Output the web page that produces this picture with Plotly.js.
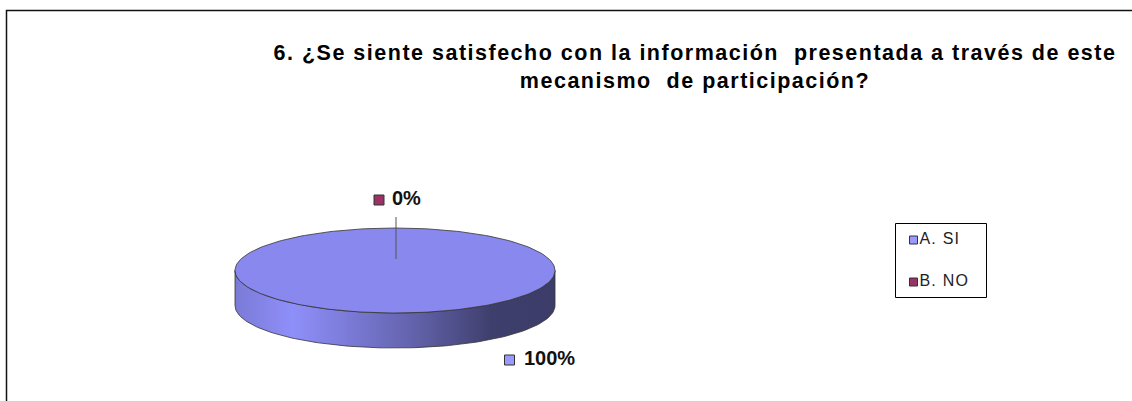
<!DOCTYPE html>
<html><head><meta charset="utf-8">
<script src="https://cdn.plot.ly/plotly-3.0.1.min.js"></script>
<style>
html,body{margin:0;padding:0;background:#fff}
.gtitle{letter-spacing:1.5px}
.legtext .textpoint text{letter-spacing:1.2px}
</style></head>
<body>
<div id="chart" style="width:1132px;height:401px"></div>
<script>
// ---------- data ----------
const categories = ["A. SI", "B. NO"];
const values = [100, 0];
const sliceColors = ["#8888EE", "#993366"];
const keyColors = ["#9999FF", "#993366"];
const titleText = "<b>6. ¿Se siente satisfecho con la información&nbsp; presentada a través de este<br>mecanismo&nbsp; de participación?</b>";

// ---------- layout geometry (pixel-like space) ----------
const W = 1132, H = 401;
const pie = {cx: 395, cy: 270.5, rx: 160, ry: 42.5, depth: 35};
const labelMarkerPos = [[509.5, 360], [379, 200]];
const labelTextPos = [[524, 360], [392, 200]];
const legendPos = [[913.5, 240], [913.5, 282]];
const leader = [null, {x: 396, y0: 217, y1: 259}];
const edge = "#333333";
const FONT = 'Liberation Sans, Arial, sans-serif';

function hexToRgb(h){h=h.replace('#','');return [0,2,4].map(i=>parseInt(h.substr(i,2),16));}
function shade(c,f){const r=hexToRgb(c).map(v=>Math.max(0,Math.min(255,Math.round(v*f))));return `rgb(${r[0]},${r[1]},${r[2]})`;}

const total = values.reduce((a,b)=>a+b,0);
const fracs = values.map(v=>v/total);
const traces = [];

// top-face point for angle theta (clockwise from 12 o'clock)
const topPt = (t, dy=0) => [pie.cx + pie.rx*Math.sin(t), pie.cy - pie.ry*Math.cos(t) + dy];

// side walls (front half: theta in [pi/2, 3pi/2])
let acc = 0;
fracs.forEach((f,i)=>{
  const a0 = acc*2*Math.PI, a1 = (acc+f)*2*Math.PI; acc += f;
  const s = Math.max(a0, Math.PI/2), e = Math.min(a1, 3*Math.PI/2);
  if (e <= s) return;
  const xs=[], ys=[], N=120;
  for(let k=0;k<=N;k++){const t=s+(e-s)*k/N;const p=topPt(t);xs.push(p[0]);ys.push(p[1]);}
  for(let k=N;k>=0;k--){const t=s+(e-s)*k/N;const p=topPt(t,pie.depth);xs.push(p[0]);ys.push(p[1]);}
  xs.push(xs[0]); ys.push(ys[0]);
  const c = sliceColors[i];
  traces.push({type:'scatter', mode:'lines', x:xs, y:ys, fill:'toself',
    fillgradient:{type:'horizontal', colorscale:[[0,shade(c,0.9)],[0.18,shade(c,1.05)],[0.4,shade(c,0.86)],[0.56,shade(c,0.72)],[0.8,shade(c,0.46)],[1,shade(c,0.44)]]},
    line:{color:edge, width:0.8}, showlegend:false, hoverinfo:'skip'});
});

// top faces
acc = 0;
fracs.forEach((f,i)=>{
  const a0 = acc*2*Math.PI, a1 = (acc+f)*2*Math.PI; acc += f;
  if (f <= 0) return;
  const xs=[], ys=[], N=240;
  if (f < 1){xs.push(pie.cx); ys.push(pie.cy);}
  for(let k=0;k<=N;k++){const t=a0+(a1-a0)*k/N;const p=topPt(t);xs.push(p[0]);ys.push(p[1]);}
  if (f < 1){xs.push(pie.cx); ys.push(pie.cy);}
  traces.push({type:'scatter', mode:'lines', x:xs, y:ys, fill:'toself', fillcolor:sliceColors[i],
    line:{color:edge, width:0.8}, showlegend:false, hoverinfo:'skip'});
});

// leader lines
leader.forEach(l=>{ if(!l) return;
  traces.push({type:'scatter', mode:'lines', x:[l.x,l.x], y:[l.y0,l.y1], line:{color:'#555', width:1}, showlegend:false, hoverinfo:'skip'});
});

// data label keys
traces.push({type:'scatter', mode:'markers',
  x: labelMarkerPos.map(p=>p[0]), y: labelMarkerPos.map(p=>p[1]),
  marker:{symbol:'square', size:10, color:keyColors, line:{color:'#333', width:1}},
  showlegend:false, hoverinfo:'skip', cliponaxis:false});
// data label texts
traces.push({type:'scatter', mode:'text',
  x: labelTextPos.map(p=>p[0]), y: labelTextPos.map(p=>p[1]),
  text: fracs.map(f=>Math.round(f*100)+'%'), textposition:'middle right',
  textfont:{family:FONT, size:20, color:'#111', weight:'bold'},
  showlegend:false, hoverinfo:'skip', cliponaxis:false});

// legend entries
traces.push({type:'scatter', mode:'markers+text',
  x: legendPos.map(p=>p[0]), y: legendPos.map(p=>p[1]),
  text: categories, textposition:'middle right',
  textfont:{family:FONT, size:16, color:'#222'},
  marker:{symbol:'square', size:8, color:keyColors, line:{color:'#333', width:1}},
  showlegend:false, hoverinfo:'skip', cliponaxis:false});

const layout = {
  width: W, height: H, margin:{l:0,r:0,t:0,b:0},
  paper_bgcolor:'#fff', plot_bgcolor:'#fff', showlegend:false, hovermode:false,
  xaxis:{range:[0,W], visible:false, fixedrange:true},
  yaxis:{range:[H,0], visible:false, fixedrange:true},
  title:{text:titleText, x:695/W, xanchor:'center', y:1-60/H, yanchor:'top', yref:'container',
    font:{family:FONT, size:21.5, color:'#000'}},
  shapes:[
    {type:'path', xref:'x', yref:'y', path:`M 6.5 ${H} L 6.5 10.5 L ${W} 10.5`, line:{color:'#111', width:1.5}},
    {type:'rect', xref:'x', yref:'y', x0:895.5, x1:986.5, y0:223.5, y1:297.5, line:{color:'#000', width:1}}
  ]
};
Plotly.newPlot('chart', traces, layout, {staticPlot:true, displayModeBar:false}).then(()=>{
  // tag the legend-entry trace so its text can be spaced like the reference
  const tr = document.querySelectorAll('.scatterlayer .trace');
  tr[tr.length-1].classList.add('legtext');
});
</script>
</body></html>
